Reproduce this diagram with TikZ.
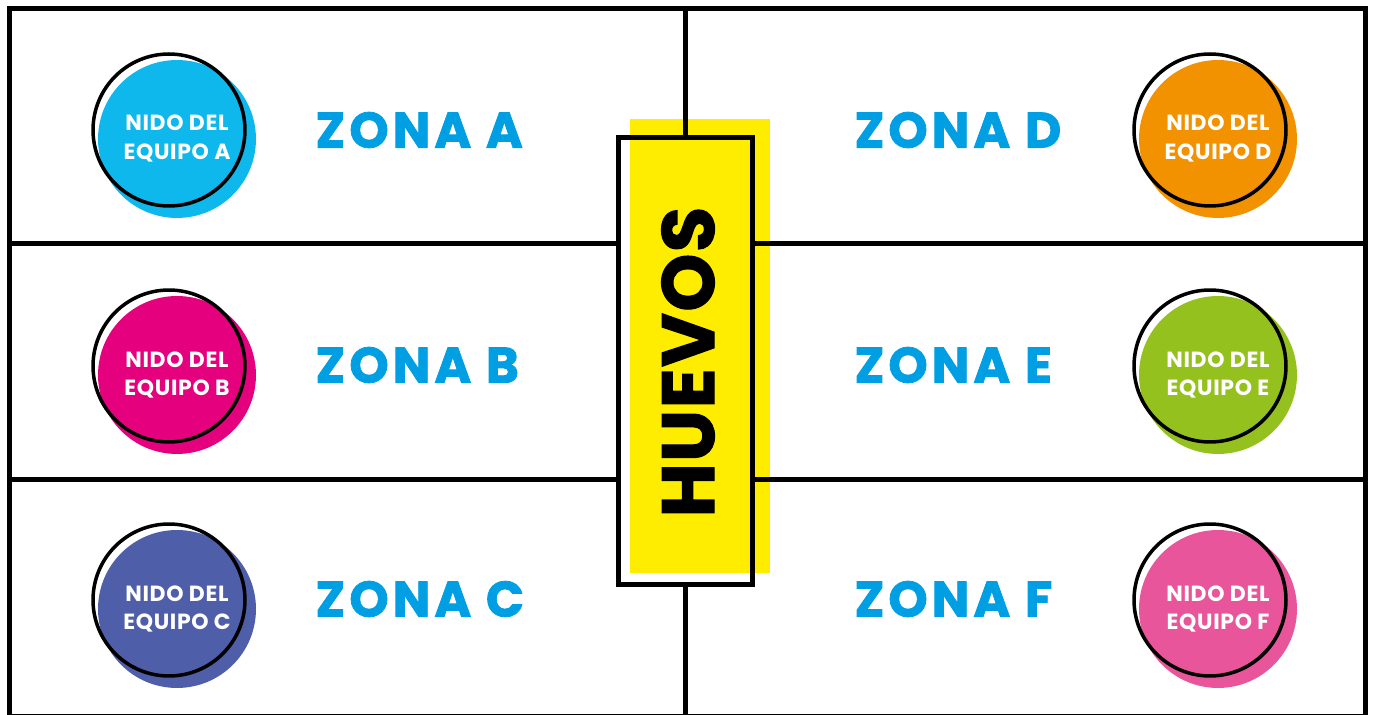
\documentclass[tikz,border=0pt]{standalone}
\usepackage{fontspec}
\setmainfont{Poppins}
\newfontfamily\heavyfont[LetterSpace=8, BoldFeatures={FakeBold=1.6}]{Poppins}
\newfontfamily\eggfont[LetterSpace=2, BoldFeatures={FakeBold=1.6}]{Poppins}
\newfontfamily\nidofont[LetterSpace=3]{Poppins}
\usetikzlibrary{positioning, calc}
\definecolor{zonc}{HTML}{009FE3}
\definecolor{eggc}{HTML}{FFED00}
\definecolor{teama}{HTML}{0FB8EC}
\definecolor{teamb}{HTML}{E5007D}
\definecolor{teamc}{HTML}{4E5EA8}
\definecolor{teamd}{HTML}{F39200}
\definecolor{teame}{HTML}{95C11F}
\definecolor{teamf}{HTML}{E9559A}

\begin{document}
\begin{tikzpicture}[x=0.02cm, y=-0.02cm, line width=2.85pt,
          nest/.style={circle, fill=#1, minimum size=3.16cm, inner sep=0pt},
          rim/.style={circle, draw=black, line width=2pt,
                      minimum size=3.04cm, inner sep=0pt},
          nidolabel/.style={text=white, align=center,
                      font=\nidofont\bfseries\fontsize{12.5}{16.5}\selectfont},
          zonalabel/.style={anchor=west, text=zonc, inner sep=0pt,
                      font=\heavyfont\bfseries\fontsize{28.5}{30}\selectfont}]
        \useasboundingbox (0,0) rectangle (1373,715);
        \fill[eggc] (630,119) rectangle (770,573);
        \node[draw, minimum width=2.67cm, minimum height=8.96cm,
              inner sep=0pt] (egg) at (685.5,361) {};
        \node[rotate=90, inner sep=0pt,
              font=\eggfont\bfseries\fontsize{42}{44}\selectfont]
              (huevos) at (688,362) {HUEVOS};
        \draw (9.5,8.5) rectangle (1365,717);
        \coordinate (top) at (685.5,8.5);
        \coordinate (bot) at (685.5,717);
        \draw (top) -- (egg.north);
        \draw (egg.south) -- (bot);
        \foreach \r/\y in {1/244, 2/480}{
          \coordinate (lft\r) at (9.5,\y);
          \coordinate (rgt\r) at (1365,\y);
          \draw (lft\r) -- (lft\r -| egg.west);
          \draw (egg.east |- rgt\r) -- (rgt\r);
        }
        \foreach \t/\cx/\cy/\c in {A/169/130/teama, B/169/366/teamb,
            C/169/600/teamc, D/1210/130/teamd, E/1210/366/teame,
            F/1210/600/teamf}{
          \node[nest=\c] (n\t) at (\cx+8,\cy+9) {};
          \node[rim] (r\t) at (\cx,\cy) {};
          \node[nidolabel] (t\t) at (n\t) {NIDO DEL\\EQUIPO \t};
        }
        \foreach \t/\x/\y in {A/313/130, B/313/365, C/313/599,
            D/852/130, E/852/365, F/852/599}{
          \node[zonalabel] (z\t) at (\x,\y) {ZONA \t};
        }
      \end{tikzpicture}
\end{document}
